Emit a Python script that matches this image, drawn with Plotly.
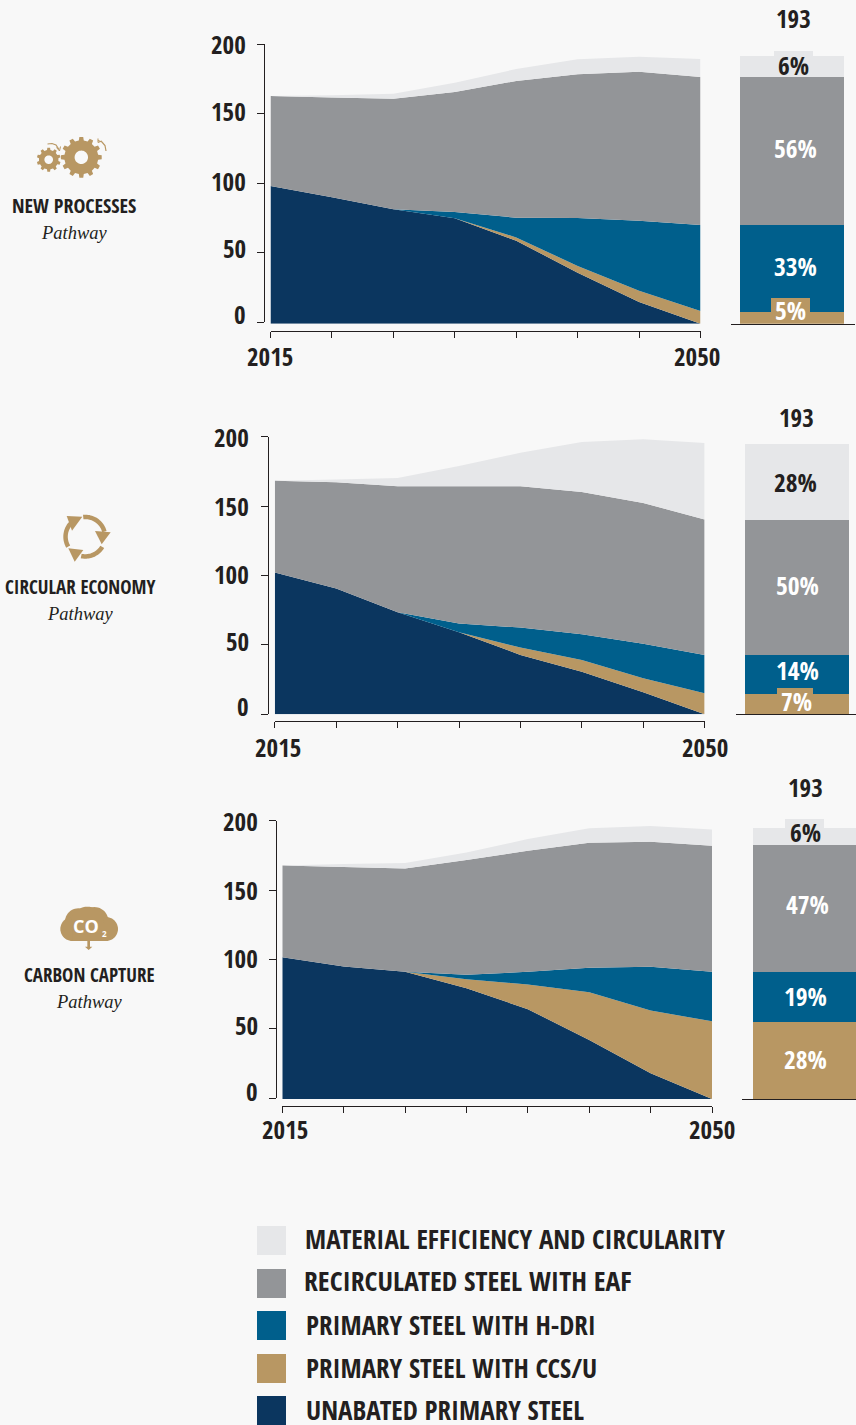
import math
import plotly.graph_objects as go

W, H = 856, 1425
BG = "#F8F8F8"
INK = "#231F20"
TAN = "#B89763"
NARROW = "Open Sans Condensed"

# ---------- data ----------
years = [2015, 2020, 2025, 2030, 2035, 2040, 2045, 2050]
series_names = ["Unabated primary steel", "Primary steel with CCS/U", "Primary steel with H-DRI",
                "Recirculated steel with EAF", "Material efficiency and circularity"]
series_colors = ["#0B365F", TAN, "#005F8C", "#939598", "#E6E7E9"]

np_unabated = [99, 90.9, 82.3, 75.8, 59.7, 36.7, 15.6, 0]
np_ccs = [0, 0, 0, 0, 2.4, 4.8, 8.1, 9.1]
np_hdri = [0, 0, 0, 4.5, 14.2, 34.5, 50.4, 61.9]
np_eaf = [64.8, 71.9, 79.6, 86.4, 98.3, 103.4, 107.2, 106.5]
np_me = [0, 1.5, 3.6, 6.7, 8.6, 10.8, 10.8, 12.9]
np_bar = [8.4, 62.6, 106.5, 15.1]

ce_unabated = [102, 90.5, 73.5, 59, 42.7, 30.7, 15.8, 0]
ce_ccs = [0, 0, 0, 0, 5.3, 8.4, 10.1, 15.1]
ce_hdri = [0, 0, 0, 6.3, 14.4, 18.5, 24.8, 27.6]
ce_eaf = [66, 76.5, 90.5, 98.7, 101.6, 102.4, 101.3, 97.5]
ce_me = [0, 2, 6, 14.6, 24.2, 35.9, 45.8, 55]
ce_bar = [14.6, 28.1, 97.3, 54.7]

cc_unabated = [102, 95.3, 91.5, 79.7, 64.6, 42.5, 18.5, 0]
cc_ccs = [0, 0, 0, 6.5, 17.8, 34.3, 45.1, 55.9]
cc_hdri = [0, 0, 0, 3.1, 9.1, 17.6, 31.5, 35.6]
cc_eaf = [66, 71.6, 74.4, 82.6, 87.1, 90, 90, 90.7]
cc_me = [0, 2.1, 3.8, 5.5, 8.4, 10.3, 11.3, 11.6]
cc_bar = [55.5, 36, 91.5, 12.2]

y_ticks = [0, 50, 100, 150, 200]
total_label = "193"
legend_labels = ["MATERIAL EFFICIENCY AND CIRCULARITY", "RECIRCULATED STEEL WITH EAF",
                 "PRIMARY STEEL WITH H-DRI", "PRIMARY STEEL WITH CCS/U", "UNABATED PRIMARY STEEL"]
legend_colors = ["#E6E7E9", "#939598", "#005F8C", TAN, "#0B365F"]

# ---------- layout of the panels (pixels) ----------
panels = [
    dict(series=[np_unabated, np_ccs, np_hdri, np_eaf, np_me], bar=np_bar,
         area=(270.5, 700.5), base=323.7, line_x=264, tick_top=44, tick_base=322, xline_y=330.7,
         bar_px=(740, 844), base_px=(730.5, 855),
         ylab_x=245, ylab_dy={0: -7, 50: -3.5, 100: -1, 150: -1, 200: 1},
         year_lab=[(270, 357, "2015"), (697, 357, "2050")],
         total=(793, 19),
         pct=[("6%", 793, 66, INK), ("56%", 795, 149, "white"), ("33%", 795, 267, "white"), ("5%", 790, 311, "white")],
         tiles=[(774, 51, 813, 60, "#E6E7E9"), (771, 298, 810, 316, TAN)]),
    dict(series=[ce_unabated, ce_ccs, ce_hdri, ce_eaf, ce_me], bar=ce_bar,
         area=(274.8, 704.6), base=714.3, line_x=267.8, tick_top=436.7, tick_base=714.3, xline_y=721,
         bar_px=(745, 849), base_px=(735.6, 856),
         ylab_x=248, ylab_dy={0: -7, 50: -3, 100: -1, 150: 1, 200: 1},
         year_lab=[(278, 748, "2015"), (705, 748, "2050")],
         total=(796, 418),
         pct=[("28%", 795, 483, INK), ("50%", 797, 586, "white"), ("14%", 797, 671, "white"), ("7%", 796, 702, "white")],
         tiles=[(777, 688, 813, 698, TAN)]),
    dict(series=[cc_unabated, cc_ccs, cc_hdri, cc_eaf, cc_me], bar=cc_bar,
         area=(282.3, 712), base=1099, line_x=276, tick_top=820.7, tick_base=1098.3, xline_y=1106,
         bar_px=(753, 857), base_px=(742, 856),
         ylab_x=257, ylab_dy={0: -6, 50: -3, 100: -1, 150: 1, 200: 1},
         year_lab=[(285, 1130, "2015"), (712, 1130, "2050")],
         total=(805, 788),
         pct=[("6%", 805, 833, INK), ("47%", 807, 905, "white"), ("19%", 805, 997, "white"), ("28%", 805, 1060, "white")],
         tiles=[(785, 819, 824, 830, "#E6E7E9")]),
]
PX_PER_UNIT = 1.39

side_labels = [("NEW PROCESSES", 74, 207, 74, 233, 20), ("CIRCULAR ECONOMY", 80, 588, 80, 614, 19),
               ("CARBON CAPTURE", 89, 976, 89, 1002, 19)]


def fx(x):
    return x / W


def fy(y):
    return 1 - y / H


fig = go.Figure()
layout = dict(width=W, height=H, margin=dict(l=0, r=0, t=0, b=0, pad=0), autosize=False,
              paper_bgcolor=BG, plot_bgcolor="rgba(0,0,0,0)", barmode="stack", showlegend=False,
              font=dict(family=NARROW, color=INK))
ann, shp = [], []
TEXT_DY = -1  # the condensed font sits low in its line box


def text(x, y, s, size, color=INK, family=NARROW, bold=True, italic=False, anchor="center", dy=TEXT_DY, height=None):
    if bold:
        s = "<b>" + s + "</b>"
    if italic:
        s = "<i>" + s + "</i>"
    a = dict(xref="paper", yref="paper", x=fx(x), y=fy(y + dy), text=s, showarrow=False, xanchor=anchor,
             yanchor="middle", font=dict(family=family, size=size, color=color), borderpad=0, borderwidth=0)
    if height:
        a["height"] = height
    ann.append(a)


def rect(x0, y0, x1, y1, color):
    shp.append(dict(type="rect", xref="paper", yref="paper", x0=fx(x0), x1=fx(x1), y0=fy(y0), y1=fy(y1),
                    fillcolor=color, line=dict(width=0), layer="above"))


def path(points_lists, color=TAN, stroke=None, width=0):
    d = ""
    for pts, closed in points_lists:
        d += "M" + " L".join(f"{fx(x):.5f},{fy(y):.5f}" for x, y in pts) + (" Z " if closed else " ")
    shp.append(dict(type="path", xref="paper", yref="paper", path=d,
                    fillcolor=color if stroke is None else "rgba(0,0,0,0)",
                    line=dict(width=width, color=stroke or color), layer="above"))


for i, p in enumerate(panels):
    n = i * 2 + 1
    xa, xb, ya, yt = f"x{n}", f"x{n + 1}", f"y{n}", f"y{n + 1}"
    key = lambda a: a[0] + "axis" + a[1:]
    y_top_px = p["base"] - 205 * PX_PER_UNIT
    layout[key(xa)] = dict(domain=[fx(p["area"][0]), fx(p["area"][1])], range=[2015, 2050], anchor="free",
                           position=fy(p["xline_y"]), showline=True, linecolor=INK, linewidth=1.2, ticks="outside",
                           ticklen=6, tickwidth=1, tickcolor=INK, tickvals=years, showticklabels=False,
                           showgrid=False, zeroline=False)
    bw = p["bar_px"][1] - p["bar_px"][0]
    layout[key(xb)] = dict(domain=[fx(p["base_px"][0]), fx(p["base_px"][1])],
                           range=[-0.5 - (p["bar_px"][0] - p["base_px"][0]) / bw,
                                  0.5 + (p["base_px"][1] - p["bar_px"][1]) / bw],
                           anchor=ya, showline=True, linecolor=INK, linewidth=1, ticks="", showticklabels=False,
                           showgrid=False, zeroline=False)
    layout[key(ya)] = dict(domain=[fy(p["base"]), fy(y_top_px)], range=[0, 205], anchor=xa, visible=False)
    layout[key(yt)] = dict(domain=[fy(p["tick_base"]), fy(p["tick_top"])], range=[0, 200], anchor="free",
                           position=fx(p["line_x"]), side="left", showline=True, linecolor=INK, linewidth=1.2,
                           ticks="outside", ticklen=7, tickwidth=1, tickcolor=INK, tickvals=y_ticks,
                           showticklabels=False, showgrid=False, zeroline=False)
    for name, vals, color in zip(series_names, p["series"], series_colors):
        fig.add_trace(go.Scatter(x=years, y=vals, name=name, mode="none", stackgroup=f"s{i}", fill="tonexty",
                                 fillcolor=color, xaxis=xa, yaxis=ya, hoverinfo="name+x+y"))
    for name, val, color in zip(series_names[1:], p["bar"], series_colors[1:]):
        fig.add_trace(go.Bar(x=[0], y=[val], name=name, width=1, marker=dict(color=color, line=dict(width=0)),
                             xaxis=xb, yaxis=ya, hoverinfo="name+y"))
    fig.add_trace(go.Scatter(x=[2015], y=[0], mode="markers", marker=dict(opacity=0, size=1), xaxis=xa, yaxis=yt,
                             hoverinfo="skip"))
    for t in y_ticks:
        py = p["tick_base"] + (p["tick_top"] - p["tick_base"]) * t / 200 + p["ylab_dy"][t]
        text(p["ylab_x"] + 0.5, py, str(t), 25, anchor="right")
    for x, y, s in p["year_lab"]:
        text(x, y, s, 25)
    text(p["total"][0], p["total"][1], total_label, 25)
    for x0, y0, x1, y1, c in p["tiles"]:
        rect(x0, y0, x1, y1, c)
    for s, x, y, c in p["pct"]:
        text(x, y, s, 25.5, color=c)

for name, x, y, x2, y2, size in side_labels:
    text(x, y, name, size)
    text(x2, y2, "Pathway", 18.5, family="Liberation Serif", bold=False, italic=True, dy=0)

# legend
legend_x = [305, 304, 306, 306, 306]
legend_y = [1239, 1281, 1325, 1368, 1410]
legend_size = [27, 27.7, 27, 27, 27]
swatch_y = [1226, 1269, 1311, 1354, 1396]
for lab, c, lx, ly, sy, fs in zip(legend_labels, legend_colors, legend_x, legend_y, swatch_y, legend_size):
    rect(257, sy, 286, sy + 29, c)
    text(lx, ly, lab, fs, anchor="left", height=26)


# ---------- icons ----------
def circle_pts(cx, cy, r, k=48):
    return [(cx + r * math.cos(2 * math.pi * j / k), cy + r * math.sin(2 * math.pi * j / k)) for j in range(k)]


def gear(cx, cy, r_out, r_body, r_hole, teeth):
    pts = []
    step = 2 * math.pi / teeth
    for j in range(teeth):
        a = j * step - math.pi / 2
        for da, r in [(-0.28, r_body), (-0.18, r_out), (0.18, r_out), (0.28, r_body)]:
            pts.append((cx + r * math.cos(a + da * step), cy + r * math.sin(a + da * step)))
    path([(pts, True), (circle_pts(cx, cy, r_hole), True)])


def arc_pts(cx, cy, r, a0, a1, k=24):
    return [(cx + r * math.cos(math.radians(a0 + (a1 - a0) * j / k)),
             cy + r * math.sin(math.radians(a0 + (a1 - a0) * j / k))) for j in range(k + 1)]


gear(81.3, 157.3, 20.5, 17, 6.7, 12)
gear(48.7, 159.7, 12, 9.8, 4.3, 10)
path([([(47.5, 144), (52, 143.5), (56, 145), (59, 149.5)], False)], stroke=TAN, width=1.2)
path([([(56.5, 147.5), (59.5, 151), (60.5, 146.5)], False)], stroke=TAN, width=1)
path([([(98, 140.5), (102, 142), (105, 145.5), (106, 151)], False)], stroke=TAN, width=1.2)
path([([(98, 138.5), (98, 142.5), (102, 141)], False)], stroke=TAN, width=1)

# recycle icon
cx, cy = 85.3, 536.7
for a0, a1 in [(150, 226), (264, 345), (31, 102)]:
    outer = arc_pts(cx, cy, 22, a0, a1)
    inner = arc_pts(cx, cy, 17.5, a1, a0)
    path([(outer + inner, True)])
for tri in [[(66.7, 516), (82.3, 516.7), (72, 530.7)], [(95, 531), (110.7, 532.3), (101.7, 544.3)],
            [(68.3, 548.3), (83.3, 550), (74.7, 561.7)]]:
    path([(tri, True)])


# cloud icon
def zc(x, y):
    return x / 3, 890 + y / 3


for (zx, zy, zr) in [(235, 95, 40), (283, 93, 42), (217, 117, 36), (318, 117, 36), (262, 100, 50)]:
    x, y = zc(zx, zy)
    path([(circle_pts(x, y, zr / 3), True)])
x0, y0 = zc(217, 100)
x1, y1 = zc(318, 153)
rect(x0, y0, x1, y1, TAN)
x0, y0 = zc(262, 150)
x1, y1 = zc(270, 171)
rect(x0, y0, x1, y1, TAN)
path([([zc(255, 170), zc(277, 170), zc(266, 180)], True)])
text(85.5, 926.5, "CO", 18, color="white", family="Open Sans", dy=0)
text(104, 933, "2", 8, color="white", family="Open Sans", dy=0)

layout["annotations"] = ann
layout["shapes"] = shp
fig.update_layout(**layout)
fig.write_html("out.html", config={"displayModeBar": False},
               post_script="document.body.style.margin='0';document.body.style.overflow='hidden';document.body.style.background='%s';" % BG)
